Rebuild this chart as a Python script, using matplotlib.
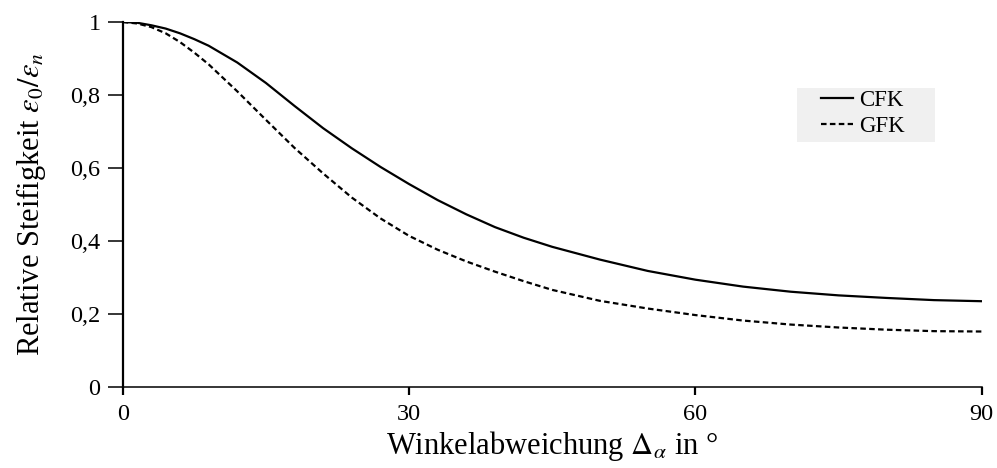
import matplotlib
matplotlib.use("Agg")
import matplotlib.pyplot as plt
from matplotlib.patches import Rectangle

winkel = [0, 1.5, 3, 4.5, 6, 7.5, 9, 12, 15, 18, 21, 24, 27, 30, 33, 36, 39, 42, 45,
          50, 55, 60, 65, 70, 75, 80, 85, 90]
cfk = [1.000, 0.998, 0.991, 0.982, 0.969, 0.953, 0.935, 0.889, 0.833, 0.770,
       0.709, 0.654, 0.603, 0.556, 0.512, 0.473, 0.438, 0.409, 0.384,
       0.349, 0.318, 0.294, 0.275, 0.261, 0.251, 0.244, 0.238, 0.235]
gfk = [1.000, 0.996, 0.986, 0.969, 0.945, 0.916, 0.884, 0.810, 0.732, 0.655,
       0.585, 0.519, 0.462, 0.414, 0.376, 0.344, 0.316, 0.290, 0.266,
       0.236, 0.215, 0.197, 0.182, 0.171, 0.163, 0.157, 0.153, 0.152]

xticks = [0, 30, 60, 90]
yticks = [0, 0.2, 0.4, 0.6, 0.8, 1]
ylabels = ["0", "0,2", "0,4", "0,6", "0,8", "1"]

plt.rcParams["font.family"] = ["Liberation Serif", "DejaVu Serif"]
plt.rcParams["mathtext.fontset"] = "stix"

fig = plt.figure(figsize=(9.97, 4.68), dpi=100)
ax = fig.add_axes([0.1231, 0.1731, 0.8616, 0.7799])

ax.plot(winkel, cfk, color="black", lw=1.6, label="CFK")
ax.plot(winkel, gfk, color="black", lw=1.6, linestyle=(0, (2.5, 1.5)), label="GFK")

ax.set_xlim(0, 90)
ax.set_ylim(0, 1)
ax.set_xticks(xticks)
ax.set_xticklabels([str(t) for t in xticks])
ax.set_yticks(yticks)
ax.set_yticklabels(ylabels)

for s in ["top", "right"]:
    ax.spines[s].set_visible(False)
ax.spines["left"].set_linewidth(1.6)
ax.spines["bottom"].set_linewidth(1.1)
ax.tick_params(axis="y", direction="out", length=11, width=1.1, labelsize=17.5, pad=5)
ax.tick_params(axis="x", direction="out", length=6, width=1.6, labelsize=17.5, pad=6)

ax.set_xlabel(r"Winkelabweichung $\Delta_{\alpha}$ in °", fontsize=22, labelpad=3)
ax.set_ylabel(r"Relative Steifigkeit $\varepsilon_0/\varepsilon_n$", fontsize=22, labelpad=16)

# grauer Legendenhintergrund
fig.patches.append(Rectangle((797 / 997, 1 - 142 / 468), 138 / 997, 54 / 468,
                             transform=fig.transFigure, facecolor="#f0f0f0",
                             edgecolor="none", zorder=0))
leg = fig.legend(loc="upper left", bbox_to_anchor=(816 / 997, 1 - 85 / 468), borderaxespad=0,
                 fontsize=16.5, handlelength=1.4, handletextpad=0.3,
                 frameon=False, borderpad=0.2, labelspacing=0.22)

fig.savefig("out.png", dpi=100)
